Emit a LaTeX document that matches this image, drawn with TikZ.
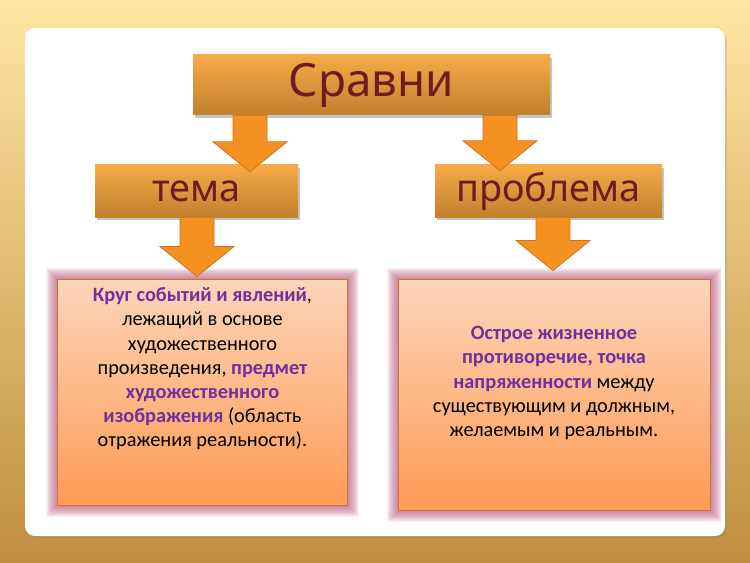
\documentclass[tikz,border=0pt]{standalone}
\usepackage{fontspec}
\setmainfont{Carlito}
\newfontfamily\headfont{Noto Sans}
\usetikzlibrary{calc,shadows}
\definecolor{bgtop}{HTML}{FFE6A2}
\definecolor{bgbot}{HTML}{C08E3E}
\definecolor{boxtop}{HTML}{F7AA46}
\definecolor{boxbot}{HTML}{C0802F}
\definecolor{headtext}{HTML}{6E1C22}
\definecolor{arrfill}{HTML}{F59120}
\definecolor{arrline}{HTML}{D0731C}
\definecolor{notetop}{HTML}{FCD5B8}
\definecolor{notebot}{HTML}{FF9B55}
\definecolor{noteedge}{HTML}{CC7045}
\definecolor{glowpink}{HTML}{B85575}
\definecolor{keyword}{HTML}{7030A0}
\newcommand{\kw}[1]{\textbf{\color{keyword}#1}}
% block arrow: from the bottom of #1 down to the point #2
\newcommand{\blockarrow}[2]{%
  \draw[arrowbody] let \p1=(#1), \p2=(#2) in
    (\x2-17bp,\y1) -- (\x2-17bp,\y2+30bp) -- (\x2-37bp,\y2+30bp) -- (\x2,\y2)
    -- (\x2+37bp,\y2+30bp) -- (\x2+17bp,\y2+30bp) -- (\x2+17bp,\y1) -- cycle;}
\tikzset{
  headbox/.style={top color=boxtop, bottom color=boxbot, text=headtext, inner sep=0pt,
    drop shadow={shadow xshift=2bp, shadow yshift=-3bp, opacity=0.45}},
  notebox/.style={top color=notetop, bottom color=notebot, draw=noteedge, line width=1bp},
  notetext/.style={align=center, inner sep=0pt, font=\fontsize{20.4}{24.3}\selectfont},
  arrowbody/.style={fill=arrfill, draw=arrline, line width=0.8bp, line join=miter}
}
\begin{document}
\begin{tikzpicture}[x=1bp,y=-1bp]
  \useasboundingbox (0,0) rectangle (750,563);
  \shade[top color=bgtop, bottom color=bgbot] (0,0) rectangle (750,563);
  \fill[white, rounded corners=10bp, drop shadow={shadow xshift=1.5bp, shadow yshift=-2bp, opacity=0.35}]
    (25,28) rectangle (725,536);

  % headings
  \node[headbox, minimum width=357bp, minimum height=60bp, font=\headfont\fontsize{46}{50}\selectfont]
    (srav) at (371.5,85) {Сравни};
  \node[headbox, minimum width=203bp, minimum height=52bp, font=\headfont\fontsize{38}{42}\selectfont]
    (tema) at (196.5,191) {тема};
  \node[headbox, minimum width=227bp, minimum height=52bp, font=\headfont\fontsize{38}{42}\selectfont]
    (probl) at (548.5,191) {проблема};

  % notes
  \node[notebox, minimum width=289bp, minimum height=225bp] (lbox) at (202.5,392.5) {};
  \node[notebox, minimum width=312bp, minimum height=230bp] (rbox) at (554,395) {};
  % pink glow round the notes
  \foreach \b in {lbox,rbox}
    \foreach \w in {1,...,11}
      \draw[glowpink, opacity=0.085, line width=\w bp]
        ([shift={(-\w/2*1bp,\w/2*1bp)}]\b.north west) rectangle ([shift={(\w/2*1bp,-\w/2*1bp)}]\b.south east);
  \node[notetext, anchor=north] (ltxt) at ([yshift=-8bp]lbox.north)
    {\kw{Круг событий и явлений},\\ лежащий в основе\\ художественного\\
     произведения, \kw{предмет}\\ \kw{художественного}\\ \kw{изображения} (область\\
     отражения реальности).};
  \node[notetext] (rtxt) at ([yshift=12bp]rbox.center)
    {\kw{Острое жизненное}\\ \kw{противоречие, точка}\\ \kw{напряженности} между\\
     существующим и должным,\\ желаемым и реальным.};

  % arrows
  \blockarrow{srav.south}{[xshift=53.5bp,yshift=-7bp]tema.north}
  \blockarrow{srav.south}{[xshift=-48.5bp,yshift=-6bp]probl.north}
  \blockarrow{tema.south}{[xshift=-5.5bp,yshift=3bp]lbox.north}
  \blockarrow{probl.south}{[xshift=-1bp,yshift=9bp]rbox.north}
\end{tikzpicture}
\end{document}
